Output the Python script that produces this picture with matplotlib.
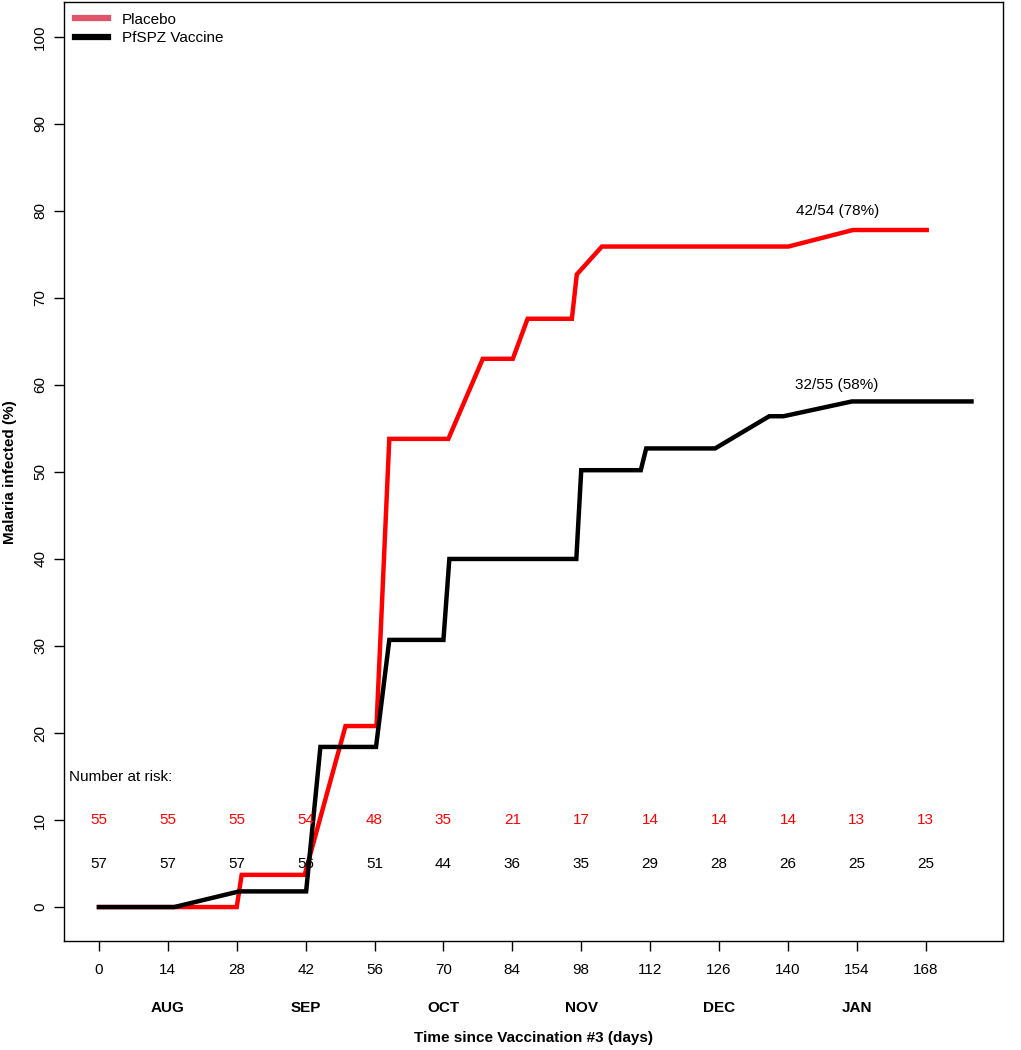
import matplotlib.pyplot as plt
from matplotlib.lines import Line2D

plt.rcParams['font.family'] = ['Liberation Sans', 'DejaVu Sans']

# cumulative % infected (days, %)
placebo_days = [0, 28, 29, 41.8, 50.1, 56.4, 59.0, 71.0, 78.0, 84.1, 87.1, 96.1, 97.1, 102.2, 140.1, 153.2, 168.2]
placebo_pct = [0, 0, 3.7, 3.7, 20.8, 20.8, 53.8, 53.8, 63.0, 63.0, 67.6, 67.6, 72.7, 75.9, 75.9, 77.8, 77.8]

vaccine_days = [0, 15.3, 28.5, 42.1, 45.0, 56.3, 59.0, 70.0, 71.2, 97.0, 98.0, 110.1, 111.2, 125.2, 136.2, 139.1, 153.0, 177.3]
vaccine_pct = [0, 0, 1.8, 1.8, 18.4, 18.4, 30.7, 30.7, 40.0, 40.0, 50.2, 50.2, 52.7, 52.7, 56.4, 56.4, 58.1, 58.1]

risk_days = [0, 14, 28, 42, 56, 70, 84, 98, 112, 126, 140, 154, 168]
risk_placebo = [55, 55, 55, 54, 48, 35, 21, 17, 14, 14, 14, 13, 13]
risk_vaccine = [57, 57, 57, 56, 51, 44, 36, 35, 29, 28, 26, 25, 25]

months = ['AUG', 'SEP', 'OCT', 'NOV', 'DEC', 'JAN']
month_days = [14, 42, 70, 98, 126, 154]

fig = plt.figure(figsize=(10.21, 10.5), dpi=100)
ax = fig.add_axes([64 / 1021, 109 / 1050, 939 / 1021, 939 / 1050])

ax.plot(placebo_days, placebo_pct, color='#ff0000', lw=3.2, solid_joinstyle='miter')
ax.plot(vaccine_days, vaccine_pct, color='black', lw=3.2, solid_joinstyle='miter')

ax.set_xlim(-7.1, 183.7)
ax.set_ylim(-3.9, 104)

ax.set_xticks(risk_days)
ax.set_xticklabels([str(d) for d in risk_days], fontsize=11)
ax.set_yticks(range(0, 101, 10))
ax.set_yticklabels([str(v) for v in range(0, 101, 10)], fontsize=11, rotation=90, va='center')
ax.tick_params(axis='x', length=7, width=1, pad=9)
ax.tick_params(axis='y', length=7, width=1, pad=5)
for s in ax.spines.values():
    s.set_linewidth(1)

# month labels under the day ticks
for m, d in zip(months, month_days):
    ax.annotate(m, xy=(d, 0), xycoords=('data', 'axes fraction'), xytext=(0, -48),
                textcoords='offset points', ha='center', va='center',
                fontsize=11, fontweight='bold')

fig.text(0.523, 1 - 1038 / 1050, 'Time since Vaccination #3 (days)', fontsize=11,
         fontweight='bold', ha='center', va='center')
fig.text(10 / 1021, 1 - 472 / 1050, 'Malaria infected (%)', fontsize=11,
         fontweight='bold', ha='center', va='center', rotation=90)

# number at risk
ax.text(-6, 14.9, 'Number at risk:', fontsize=11, ha='left', va='center')
for d, p, v in zip(risk_days, risk_placebo, risk_vaccine):
    ax.text(d, 10, str(p), color='#ff0000', fontsize=11, ha='center', va='center')
    ax.text(d, 5, str(v), color='black', fontsize=11, ha='center', va='center')

ax.text(150, 80, '42/54 (78%)', fontsize=11, ha='center', va='center')
ax.text(150, 60, '32/55 (58%)', fontsize=11, ha='center', va='center')

handles = [Line2D([], [], color='#df536b', lw=4.5),
           Line2D([], [], color='black', lw=4.5)]
ax.legend(handles, ['Placebo', 'PfSPZ Vaccine'], loc='upper left', frameon=False,
          fontsize=11, handlelength=2.2, handletextpad=0.9, labelspacing=0.3,
          borderaxespad=0.3, borderpad=0.4)

fig.savefig('out.png', dpi=100)
